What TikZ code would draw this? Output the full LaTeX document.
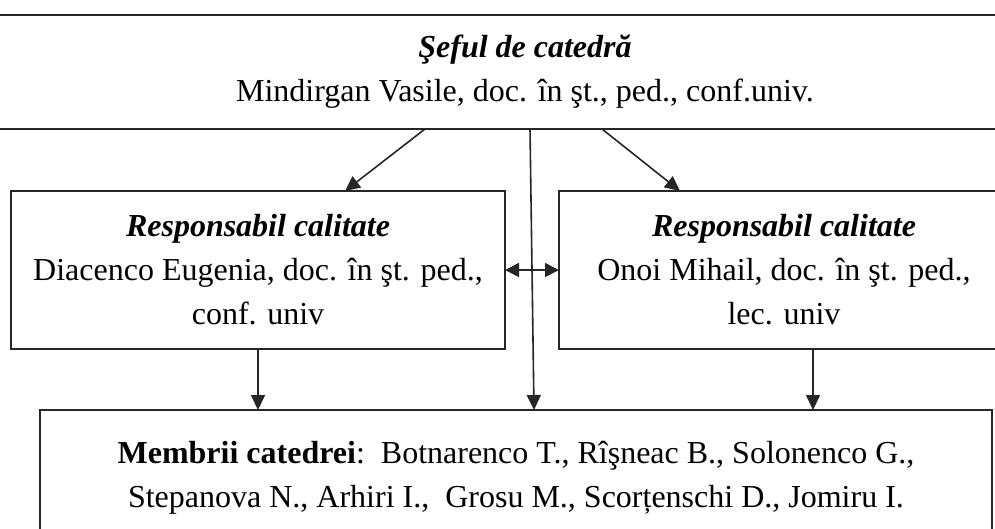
\documentclass[tikz,border=0pt]{standalone}
\usepackage{fontspec}
\setmainfont{Liberation Serif}
\usetikzlibrary{arrows.meta,calc}
\begin{document}
\begin{tikzpicture}[x=1pt,y=-1pt,
  box/.style={draw=black!85,line width=2pt,rectangle,inner sep=0pt,outer sep=0pt,align=center,
    font=\fontsize{32pt}{44pt}\selectfont},
  conn/.style={draw=black!85,line width=1.6pt,-{Triangle[length=15pt,width=14pt]}},
  dconn/.style={draw=black!85,line width=1.6pt,{Triangle[length=14pt,width=14pt]}-{Triangle[length=14pt,width=14pt]}}]
\useasboundingbox (0,0) rectangle (995,528);
\clip (0,0) rectangle (995,528);
\fill[white] (0,0) rectangle (995,528);
\node[box,minimum width=1060pt,minimum height=114pt] (top) at (525,72)
  {\textit{\textbf{Şeful de catedră}}\\Mindirgan Vasile, doc. în şt., ped., conf.univ.};
\node[box,minimum width=494pt,minimum height=158pt] (l) at (258,270)
  {\textit{\textbf{Responsabil calitate}}\\Diacenco Eugenia, doc. în şt. ped.,\\conf. univ};
\node[box,minimum width=450pt,minimum height=158pt] (r) at (784,270)
  {\textit{\textbf{Responsabil calitate}}\\Onoi Mihail, doc. în şt. ped.,\\lec. univ};
\node[box,minimum width=952pt,minimum height=135pt] (b) at (516,477.5)
  {\textbf{Membrii catedrei}:\ \ Botnarenco T., Rîşneac B., Solonenco G.,\\Stepanova N., Arhiri I.,\ \ Grosu M., Scorțenschi D., Jomiru I.};
\draw[conn] ([xshift=-100pt]top.south) -- ([xshift=87pt]l.north);
\draw[conn] ([xshift=77pt]top.south) -- ([xshift=-104pt]r.north);
\draw[conn] ([xshift=5pt]top.south) -- ([xshift=18pt]b.north);
\draw[dconn] (l.east) -- (r.west);
\draw[conn] (l.south) -- (l.south |- b.north);
\draw[conn] ([xshift=29pt]r.south) coordinate (rs) -- (rs |- b.north);
\end{tikzpicture}
\end{document}
